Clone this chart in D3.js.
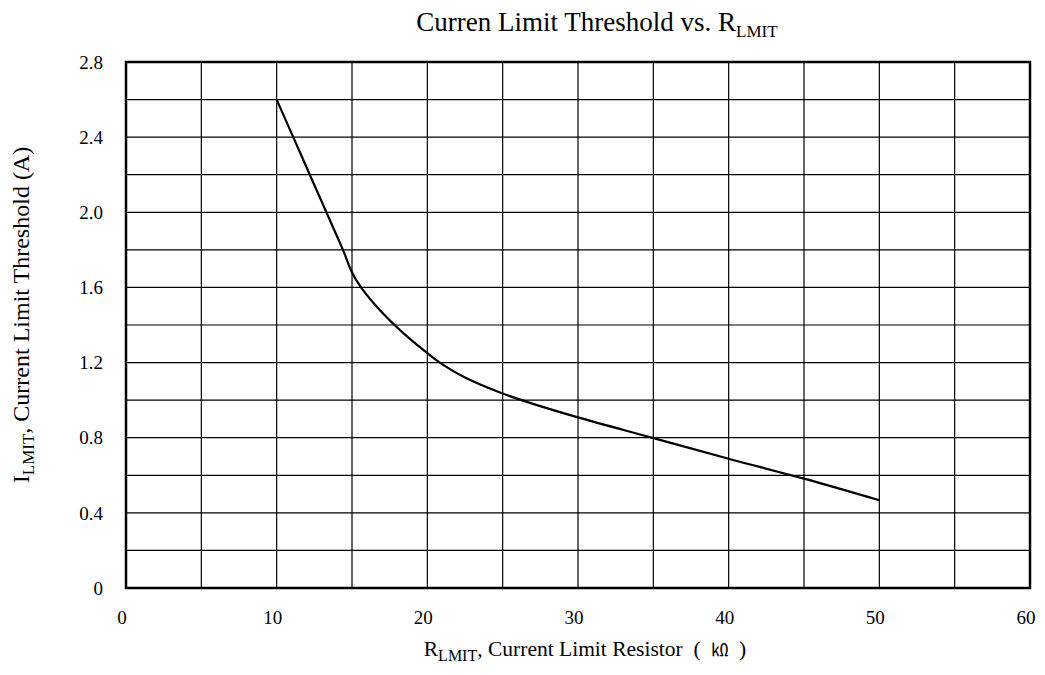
<!DOCTYPE html>
<html>
<head>
<meta charset="utf-8">
<script src="https://cdn.jsdelivr.net/npm/d3@7"></script>
<style>
  body { margin: 0; background: #fff; }
  text { font-family: "Liberation Serif", "Times New Roman", serif; fill: #000; white-space: pre; }
</style>
</head>
<body>
<div id="chart"></div>
<script>

// curve: resistor (kOhm) vs current limit (A)
var rLimit = [10, 11.1, 12.2, 13.3, 14.4, 15.0, 15.6, 16.5, 17.5, 18.5, 20, 21, 22.5, 25, 27.5, 30, 35, 40, 45, 50];
var iLimit = [2.6, 2.4, 2.2, 2.0, 1.8, 1.68, 1.6, 1.51, 1.425, 1.35, 1.25, 1.19, 1.12, 1.035, 0.968, 0.908, 0.798, 0.688, 0.582, 0.467];

var xTicks = [0, 10, 20, 30, 40, 50, 60];
var yTicks = [0, 0.4, 0.8, 1.2, 1.6, 2.0, 2.4, 2.8];
var xGrid = d3.range(0, 61, 5);
var yGrid = d3.range(0, 15).map(function(i) { return +(i * 0.2).toFixed(1); });

var width = 1045, height = 675;
var margin = {top: 62, right: 15, bottom: 87, left: 126};
var w = width - margin.left - margin.right,
    h = height - margin.top - margin.bottom;

var x = d3.scaleLinear().domain([0, 60]).range([0, w]);
var y = d3.scaleLinear().domain([0, 2.8]).range([h, 0]);

var svg = d3.select("#chart").append("svg")
    .attr("width", width)
    .attr("height", height);

var g = svg.append("g")
    .attr("transform", "translate(" + margin.left + "," + margin.top + ")");

// grid
g.selectAll(".vgrid").data(xGrid).enter().append("line")
    .attr("x1", function(d) { return x(d); })
    .attr("x2", function(d) { return x(d); })
    .attr("y1", 0).attr("y2", h)
    .attr("stroke", "#000").attr("stroke-width", 1.2);

g.selectAll(".hgrid").data(yGrid).enter().append("line")
    .attr("y1", function(d) { return y(d); })
    .attr("y2", function(d) { return y(d); })
    .attr("x1", 0).attr("x2", w)
    .attr("stroke", "#000").attr("stroke-width", 1.2);

// frame
g.append("rect")
    .attr("width", w).attr("height", h)
    .attr("fill", "none").attr("stroke", "#000").attr("stroke-width", 2.5);

// tick labels
g.selectAll(".xt").data(xTicks).enter().append("text")
    .attr("x", function(d) { return x(d) - 4; })
    .attr("y", h + 36)
    .attr("text-anchor", "middle")
    .style("font-size", "19px")
    .text(function(d) { return d; });

g.selectAll(".yt").data(yTicks).enter().append("text")
    .attr("x", -23)
    .attr("y", function(d) { return y(d); })
    .attr("dy", "0.35em")
    .attr("text-anchor", "end")
    .style("font-size", "19px")
    .text(function(d) { return d === 0 ? "0" : d.toFixed(1); });

// curve
var line = d3.line()
    .x(function(d) { return x(d[0]); })
    .y(function(d) { return y(d[1]); })
    .curve(d3.curveCatmullRom.alpha(0.5));

g.append("path")
    .datum(rLimit.map(function(r, i) { return [r, iLimit[i]]; }))
    .attr("d", line)
    .attr("fill", "none")
    .attr("stroke", "#000")
    .attr("stroke-width", 2.2);

// title
var title = svg.append("text")
    .attr("x", 597).attr("y", 31)
    .attr("text-anchor", "middle")
    .style("font-size", "27px");
title.append("tspan").text("Curren Limit Threshold vs. R");
title.append("tspan").attr("dy", 6).style("font-size", "17px").text("LMIT");

// x label
var xl = svg.append("text")
    .attr("x", 585).attr("y", 656)
    .attr("text-anchor", "middle")
    .style("font-size", "21.5px");
xl.append("tspan").text("R");
xl.append("tspan").attr("dy", 5).style("font-size", "16px").text("LMIT");
xl.append("tspan").attr("dy", -5).text(", Current Limit Resistor  (  ");
xl.append("tspan").style("font-family", "'Noto Sans CJK SC'").style("font-size", "17px").text("㏀");
xl.append("tspan").text("  )");

// y label
var yl = svg.append("text")
    .attr("transform", "translate(29,315) rotate(-90)")
    .attr("text-anchor", "middle")
    .style("font-size", "24px");
yl.append("tspan").text("I");
yl.append("tspan").attr("dy", 5).style("font-size", "17px").text("LMIT");
yl.append("tspan").attr("dy", -5).text(", Current Limit Threshold (A)");

</script>
</body>
</html>
